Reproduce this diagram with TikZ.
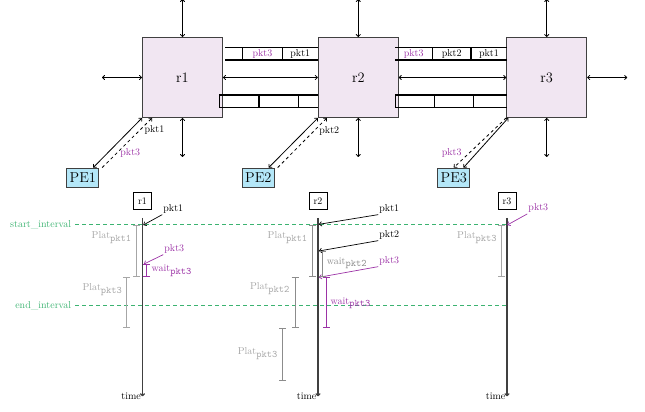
\documentclass[tikz,border=0pt]{standalone}
\usepackage{xcolor}
\usepackage{tikz}
\usetikzlibrary{arrows.meta}
\definecolor{rtfill}{HTML}{F1E6F2}
\definecolor{pefill}{HTML}{B4E7F8}
\definecolor{ivgreen}{HTML}{3CB371}
\definecolor{pktpurple}{HTML}{9C33A6}

\begin{document}
\begin{tikzpicture}[x=10pt, y=10pt, >={To[length=3pt,width=5pt]},
    router/.style={draw=black!75, fill=rtfill, line width=0.9pt, minimum size=80pt, font=\Large},
    pe/.style={draw=black!75, fill=pefill, line width=0.8pt, minimum width=32pt,
               minimum height=19pt, inner sep=2pt, font=\Large},
    tag/.style={draw, line width=0.8pt, inner sep=2pt, minimum width=18pt, minimum height=17pt},
    buf/.style={line width=1.3pt},
    link/.style={<->, line width=0.8pt},
    tline/.style={->, line width=1.2pt, black!75},
    ibar/.style={{Bar[width=7pt]}-{Bar[width=7pt]}, line width=0.8pt},
    interval/.style={dash pattern=on 4pt off 3pt, line width=1pt, ivgreen},
    pkarr/.style={->, line width=0.7pt}]
  \useasboundingbox (0,0) rectangle (64.5,41.2);

  % ---- routers and their outer ports ---------------------------------------
  \node[router] (r1) at (18.25,33.45) {r1};
  \node[router] (r2) at (35.83,33.45) {r2};
  \node[router] (r3) at (54.67,33.45) {r3};
  \foreach \r in {r1,r2,r3}{
    \draw[link] (\r.north) -- ++(0,3.8);
    \draw[link] (\r.south) -- ++(0,-3.9);}
  \draw[link] (r1.west) -- ++(-4,0);
  \draw[link] (r3.east) -- ++(4,0);
  \draw[link] (r1.east) -- (r2.west);
  \draw[link] (r2.east) -- (r3.west);

  % ---- buffers between routers ---------------------------------------------
  \foreach \a/\b/\c/\d in {22.5/24.27/28.23/31.83, 39.5/43.23/47.1/50.67}{
    \draw[buf] (\a,36.43) -- (\d,36.43) (\a,35.2) -- (\d,35.2);
    \draw[buf] (\b,36.43) -- (\b,35.2) (\c,36.43) -- (\c,35.2);}
  \foreach \a/\b/\c/\d in {21.93/25.9/29.83/31.83, 39.57/43.43/47.33/50.67}{
    \draw[buf] (\d,31.7) -- (\a,31.7) -- (\a,30.43) -- (\d,30.43);
    \draw[buf] (\b,31.7) -- (\b,30.43) (\c,31.7) -- (\c,30.43);}
  \node[text=pktpurple] (q1a) at (26.25,35.8) {pkt3};
  \node (q1b) at (30.03,35.8) {pkt1};
  \node[text=pktpurple] (q2a) at (41.37,35.8) {pkt3};
  \node (q2b) at (45.17,35.8) {pkt2};
  \node (q2c) at (48.9,35.8) {pkt1};

  % ---- processing elements ---------------------------------------------------
  \node[pe] (pe1) at (8.28,23.45) {PE1};
  \node[pe] (pe2) at (25.83,23.45) {PE2};
  \node[pe] (pe3) at (45.38,23.45) {PE3};
  \draw[link] ([xshift=-6pt]pe1.north east) -- (r1.south west);
  \draw[->, dashed, line width=0.8pt] ([xshift=3pt]pe1.north east) -- ([xshift=10pt]r1.south west);
  \draw[link] ([xshift=-6pt]pe2.north east) -- (r2.south west);
  \draw[->, dashed, line width=0.8pt] ([xshift=3pt]pe2.north east) -- ([xshift=9pt]r2.south west);
  \draw[link] ([xshift=-6.7pt]pe3.north east) -- ([xshift=2pt]r3.south west);
  \draw[->, dashed, line width=0.8pt] (r3.south west) -- (pe3.north);
  \node (i1) at (15.45,28.2) {pkt1};
  \node[text=pktpurple] (i3) at (13.03,25.87) {pkt3};
  \node (i2) at (32.93,28.13) {pkt2};
  \node[text=pktpurple] (i4) at (45.17,25.93) {pkt3};

  % ---- time lines, one per router --------------------------------------------
  \node[tag] (t1) at (14.25,21.1) {r1};
  \node[tag] (t2) at (31.8,21.1) {r2};
  \node[tag] (t3) at (50.7,21.1) {r3};
  \foreach \t in {t1,t2,t3}{
    \draw[tline] ([yshift=-8pt]\t.south) -- ++(0,-17.84)
      node[anchor=east, inner sep=1pt, text=black] {time};}

  \draw[interval] (7.5,18.7) node[left, text=ivgreen] {start\_interval} -- (50.67,18.7);
  \draw[interval] (7.5,10.63) node[left, text=ivgreen] {end\_interval} -- (50.67,10.63);

  % ---- packet arrivals -----------------------------------------------------
  \foreach \x/\y/\ex/\ey/\p/\c [count=\i] in {17.33/20.3/14.33/18.7/pkt1/black,
      17.43/16.3/14.4/14.8/pkt3/pktpurple, 38.93/20.3/31.9/18.77/pkt1/black,
      38.93/17.7/31.9/16.1/pkt2/black, 38.93/15.1/31.9/13.47/pkt3/pktpurple,
      53.83/20.37/50.73/18.7/pkt3/pktpurple}{
    \node[text=\c, inner sep=1pt] (ev\i) at (\x,\y) {\p};
    \coordinate (hit\i) at (\ex,\ey);
    \draw[pkarr, \c] (ev\i.south west) -- (hit\i);}

  % ---- latency and waiting bars --------------------------------------------
  \foreach \x/\ya/\yb/\c in {13.67/18.7/13.53/black!35, 14.67/14.8/13.53/pktpurple,
      12.67/13.53/8.37/black!35, 31.27/18.7/13.53/black!45, 32.27/16.1/13.53/black!45,
      32.6/13.47/8.37/pktpurple, 29.5/13.53/8.37/black!45, 28.27/8.37/3.13/black!45,
      50.17/18.7/13.53/black!35}{
    \draw[ibar, \c] (\x,\ya) -- (\x,\yb);}

  \foreach \x/\y/\n/\s/\c [count=\i] in {11.17/17.43/Plat/pkt1/black!35,
      17.17/14.1/wait/pkt3/pktpurple, 10.25/12.27/Plat/pkt3/black!35,
      28.77/17.43/Plat/pkt1/black!35, 34.7/14.87/wait/pkt2/black!45,
      35.08/10.87/wait/pkt3/pktpurple, 27.0/12.3/Plat/pkt2/black!35,
      25.78/5.8/Plat/pkt3/black!35, 47.72/17.43/Plat/pkt3/black!35}{
    \node[text=\c, inner sep=1pt] (lt\i) at (\x,\y) {\n$_{\texttt{\s}}$};}
\end{tikzpicture}
\end{document}
